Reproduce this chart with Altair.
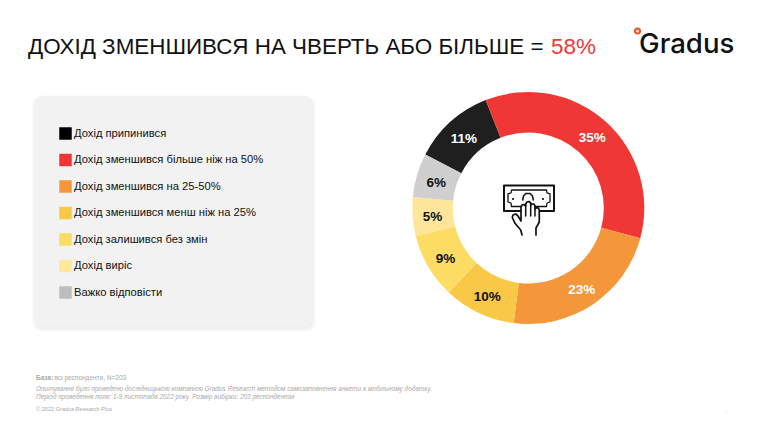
import altair as alt
import pandas as pd

categories = ["Дохід припинився", "Дохід зменшився більше ніж на 50%", "Дохід зменшився на 25-50%",
              "Дохід зменшився менш ніж на 25%", "Дохід залишився без змін", "Дохід виріс", "Важко відповісти"]
legend_colors = ["#000000", "#f03535", "#f4973b", "#fac846", "#fddc64", "#fde89c", "#bdbdbd"]
arc_colors = ["#1f1f1f", "#ef3836", "#f4973b", "#f9c847", "#fddc64", "#fde69a", "#cfcfcf"]
values = [11.4, 35.2, 22.8, 10.0, 9.1, 5.4, 6.1]
labels = ["11%", "35%", "23%", "10%", "9%", "5%", "6%"]
label_colors = ["#ffffff", "#ffffff", "#ffffff", "#111111", "#111111", "#111111", "#111111"]

title_main = "ДОХІД ЗМЕНШИВСЯ НА ЧВЕРТЬ АБО БІЛЬШЕ = "
title_red = "58%"
foot_base_bold = "База:"
foot_base = "всі респонденти, N=203"
foot_1 = "Опитування було проведено дослідницькою компанією Gradus Research методом самозаповнення анкети в мобільному додатку."
foot_2 = "Період проведення поля: 1-9 листопада 2022 року. Розмір вибірки: 203 респондентів"
foot_3 = "© 2022 Gradus Research Plus"

W, H = 748, 412
OFF = 8
CX, CY = 528.3 - OFF, 208 - OFF
START = 297.4 * 3.14159265 / 180
TAU = 2 * 3.14159265

df = pd.DataFrame({"cat": categories, "value": values, "label": labels, "lc": label_colors,
                   "i": list(range(7))})

color = alt.Color("cat:N", scale=alt.Scale(domain=categories, range=legend_colors),
                  legend=alt.Legend(title=None, orient="none", legendX=59 - OFF, legendY=127 - OFF,
                                    symbolType="square", symbolSize=156, symbolStrokeWidth=0,
                                    symbolOpacity=1, labelFontSize=11.2, labelFont="Liberation Sans",
                                    labelColor="#111111", labelLimit=300, rowPadding=13.5,
                                    labelOffset=2, padding=0, zindex=1, columns=1,
                                    values=categories))
theta = alt.Theta("value:Q", stack=True, scale=alt.Scale(range=[START, START + TAU]))
order = alt.Order("i:Q")

base = alt.Chart(df)
legend_layer = base.mark_arc(outerRadius=1, innerRadius=0, opacity=0).encode(
    theta=theta, order=order, color=color, x=alt.value(CX), y=alt.value(CY))
donut = base.mark_arc(outerRadius=116, innerRadius=75.5).encode(
    theta=theta, order=order, x=alt.value(CX), y=alt.value(CY),
    fill=alt.Fill("cat:N", scale=alt.Scale(domain=categories, range=arc_colors), legend=None))
pct = base.mark_text(radius=96, font="Liberation Sans", fontWeight="bold", fontSize=13.5, dy=2).encode(
    theta=theta, order=order, x=alt.value(CX), y=alt.value(CY), text="label:N",
    color=alt.Color("lc:N", scale=None))


def box(x0, y0, x1, y1, fill, opacity=1.0, r=8):
    d = pd.DataFrame({"a": [0]})
    return alt.Chart(d).mark_rect(cornerRadius=r, fill=fill, opacity=opacity).encode(
        x=alt.value(x0 - OFF), x2=alt.value(x1 - OFF), y=alt.value(y0 - OFF), y2=alt.value(y1 - OFF))


def txt(s, x, y, size, color, weight="normal", style="normal", font="Liberation Sans"):
    d = pd.DataFrame({"t": [s]})
    return alt.Chart(d).mark_text(align="left", baseline="alphabetic", font=font, fontSize=size, color=color,
                                  fontWeight=weight, fontStyle=style).encode(
        x=alt.value(x - OFF), y=alt.value(y - OFF), text="t:N")


def glyph(path, cx, cy, half, stroke=None, fill=None, sw=1.6):
    d = pd.DataFrame({"a": [0]})
    kw = dict(shape=path, size=(2 * half) ** 2, opacity=1, filled=fill is not None)
    if stroke:
        kw.update(stroke=stroke, strokeWidth=sw, strokeJoin="round", strokeCap="round")
    if fill:
        kw.update(fill=fill)
    else:
        kw.update(fill="transparent")
    return alt.Chart(d).mark_point(**kw).encode(x=alt.value(cx - OFF), y=alt.value(cy - OFF))


shadows = [box(34 + 1 - k, 96 + 2 - k, 312 + 1 + k, 327 + 2 + k, "#000000", 0.016, 8 + k) for k in (3, 2, 1, 0)]
panel = box(34, 96, 312, 327, "#f2f2f2")


def P(points, close=False):
    s = " ".join(("M" if i == 0 else "L") + f"{(x - 529) / 27:.3f},{(y - 210) / 27:.3f}"
                 for i, (x, y) in enumerate(points))
    return s + (" Z" if close else "")


INK = "#111111"
note_outer = P([(504, 185.5), (554, 185.5), (554, 211), (504, 211)], True)
note_inner = P([(511.5, 190), (546.5, 190), (547, 193), (550, 194), (550, 202), (547, 203), (546.5, 206.5),
                (511.5, 206.5), (511, 203), (508, 202), (508, 194), (511, 193)], True)
arch = P([(522.7, 200), (523.5, 196), (526, 193.5), (530, 193.5), (532.5, 196), (533.3, 200)])
hand = P([(522, 235), (520.7, 230), (515, 223.3), (512.3, 217.5), (513, 215), (515.7, 214), (518, 216), (521, 221),
          (521, 207), (522, 205), (524, 204.5), (525.7, 206), (525.7, 204), (527, 202), (529, 201.5), (530.7, 203),
          (530.7, 205), (532, 204), (534, 204), (535, 206), (535, 209), (536.5, 207.7), (538.5, 208), (539.3, 210),
          (539.3, 222), (536, 228), (536, 235)])
fingers = (P([(525.7, 206), (525.7, 216)]) + " " + P([(530.7, 205), (530.7, 216)]) + " " + P([(535, 208), (535, 216)]))
circle = "M1,0 A1,1 0 1,1 -1,0 A1,1 0 1,1 1,0 Z"
icon = [glyph(note_outer, 529, 210, 27, stroke=INK, sw=2),
        glyph(note_inner, 529, 210, 27, stroke=INK, sw=1.3),
        glyph(arch, 529, 210, 27, stroke=INK, sw=1.5),
        glyph(circle, 513, 199, 1, fill=INK),
        glyph(circle, 543, 199, 1, fill=INK),
        glyph(hand, 529, 210, 27, stroke=INK, fill="#ffffff", sw=1.7),
        glyph(fingers, 529, 210, 27, stroke=INK, sw=1.5)]

logo = [txt("Gradus", 639, 53, 27.6, INK, weight=500, font="Inter"),
        glyph(circle, 637.5, 31, 3.6, fill="#f04b2f"),
        glyph(circle, 637.5, 31, 1.6, fill="#fde2b0")]

GREY = "#a8a8a8"
texts = [txt(title_main, 28, 53.5, 22.4, INK),
         txt(title_red, 551, 53.5, 22.4, "#ef3836"),
         txt(foot_base_bold, 36, 380, 6.5, GREY, weight="bold"),
         txt(foot_base, 54.5, 380, 6.5, GREY),
         txt(foot_1, 36, 391, 6.46, GREY, style="italic"),
         txt(foot_2, 36, 399, 6.46, GREY, style="italic"),
         txt(foot_3, 36, 411, 5.6, GREY),
         txt(".", 726, 412, 6, GREY)]

chart = alt.layer(
    *shadows, panel, legend_layer, donut, pct, *icon, *logo, *texts
).properties(width=W, height=H, padding=0, autosize=alt.AutoSizeParams(type="none")
).resolve_scale(color="independent").configure_view(stroke=None)

chart.save("out.html", embed_options={"renderer": "svg", "actions": False})
